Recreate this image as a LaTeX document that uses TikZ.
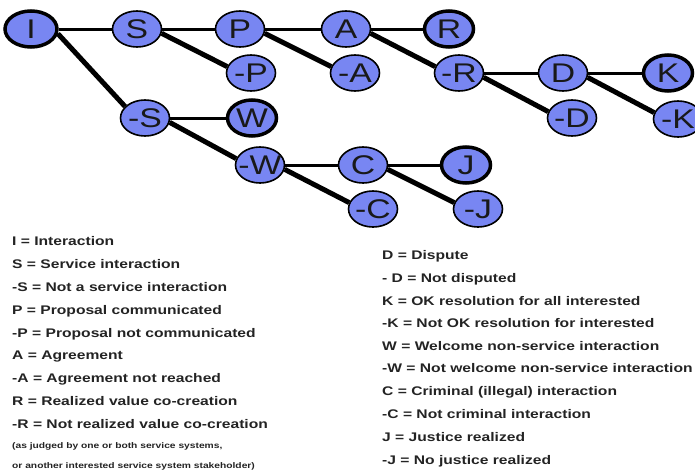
\documentclass[tikz,border=0pt]{standalone}
\usepackage{fontspec}
\setmainfont{Liberation Sans}
\newfontfamily\nodefont[FakeStretch=1.25]{Liberation Sans}
\newfontfamily\legfont[FakeStretch=1.25]{Liberation Sans}
\usetikzlibrary{backgrounds,shapes.geometric}
\definecolor{nodeblue}{RGB}{120,134,242}
\definecolor{legtext}{RGB}{35,35,35}
\begin{document}
\begin{tikzpicture}[x=1pt,y=-1pt,
  st/.style={ellipse,draw=black,fill=nodeblue,line width=1.6pt,minimum width=49pt,minimum height=36pt,inner sep=0pt},
  term/.style={st,line width=3.5pt},
  lbl/.style={inner sep=0pt,font=\nodefont\fontsize{27}{27}\selectfont,text=black!90},
  hor/.style={line width=3pt,black},
  diag/.style={line width=5pt,black},
  leg/.style={anchor=base west,inner sep=0pt,font=\legfont\bfseries\fontsize{12.5}{14}\selectfont,text=legtext},
  legs/.style={anchor=base west,inner sep=0pt,font=\legfont\bfseries\fontsize{8.2}{10}\selectfont,text=legtext}
]
\useasboundingbox (0,0) rectangle (695,471);
\clip (0,0) rectangle (695,471);
% nodes
\node[term,minimum width=52pt,label={[lbl]center:I}] (I) at (31,29) {};
\node[st,label={[lbl]center:S}] (S) at (137,29) {};
\node[st,label={[lbl]center:P}] (P) at (240,29) {};
\node[st,label={[lbl]center:A}] (A) at (346,29) {};
\node[term,label={[lbl]center:R}] (R) at (449,29) {};
\node[st,label={[lbl]center:-P}] (mP) at (251,73) {};
\node[st,label={[lbl]center:-A}] (mA) at (355,73) {};
\node[st,label={[lbl]center:-R}] (mR) at (459,73) {};
\node[st,label={[lbl]center:D}] (D) at (563,73) {};
\node[term,label={[lbl]center:K}] (K) at (668,73) {};
\node[st,label={[lbl]center:-S}] (mS) at (145,118) {};
\node[term,label={[lbl]center:W}] (W) at (252,118) {};
\node[st,label={[lbl]center:-D}] (mD) at (572,118) {};
\node[st,label={[lbl]center:-K}] (mK) at (678,119) {};
\node[st,label={[lbl]center:-W}] (mW) at (260,165) {};
\node[st,label={[lbl]center:C}] (C) at (363,165) {};
\node[term,label={[lbl]center:J}] (J) at (466,165) {};
\node[st,label={[lbl]center:-C}] (mC) at (373,209) {};
\node[st,label={[lbl]center:-J}] (mJ) at (478,209) {};
% edges
\begin{scope}[on background layer]
\draw[hor] (I.east) -- (S.west);
\draw[hor] (S.east) -- (P.west);
\draw[hor] (P.east) -- (A.west);
\draw[hor] (A.east) -- (R.west);
\draw[hor] (mR.east) -- (D.west);
\draw[hor] (D.east) -- (K.west);
\draw[hor] (mS.east) -- (W.west);
\draw[hor] (mW.east) -- (C.west);
\draw[hor] (C.east) -- (J.west);
\draw[diag] (I.-10) -- (mS.150);
\draw[diag] (S.-10) -- (mP.165);
\draw[diag] (P.-10) -- (mA.165);
\draw[diag] (A.-10) -- (mR.165);
\draw[diag] (mR.-10) -- (mD.165);
\draw[diag] (D.-10) -- (mK.165);
\draw[diag] (mS.-10) -- (mW.165);
\draw[diag] (mW.-10) -- (mC.165);
\draw[diag] (C.-10) -- (mJ.165);
\end{scope}
% legend left
\node[leg] (l1) at (12,245.5) {I = Interaction};
\node[leg] (l2) at (12,268.5) {S = Service interaction};
\node[leg] (l3) at (12,291.5) {-S = Not a service interaction};
\node[leg] (l4) at (12,314.5) {P = Proposal communicated};
\node[leg] (l5) at (12,337.5) {-P = Proposal not communicated};
\node[leg] (l6) at (12,359.5) {A = Agreement};
\node[leg] (l7) at (12,382.5) {-A = Agreement not reached};
\node[leg] (l8) at (12,405.5) {R = Realized value co-creation};
\node[leg] (l9) at (12,428.5) {-R = Not realized value co-creation};
\node[legs] (l10) at (12,448) {(as judged by one or both service systems,};
\node[legs] (l11) at (12,468) {or another interested service system stakeholder)};
% legend right
\node[leg] (r1) at (382,259.5) {D = Dispute};
\node[leg] (r2) at (382,282.5) {- D = Not disputed};
\node[leg] (r3) at (382,305.5) {K = OK resolution for all interested};
\node[leg] (r4) at (382,327.5) {-K = Not OK resolution for interested};
\node[leg] (r5) at (382,350.5) {W = Welcome non-service interaction};
\node[leg] (r6) at (382,372.5) {-W = Not welcome non-service interaction};
\node[leg] (r7) at (382,395.5) {C = Criminal (illegal) interaction};
\node[leg] (r8) at (382,418.5) {-C = Not criminal interaction};
\node[leg] (r9) at (382,441.5) {J = Justice realized};
\node[leg] (r10) at (382,464.5) {-J = No justice realized};
\end{tikzpicture}
\end{document}
